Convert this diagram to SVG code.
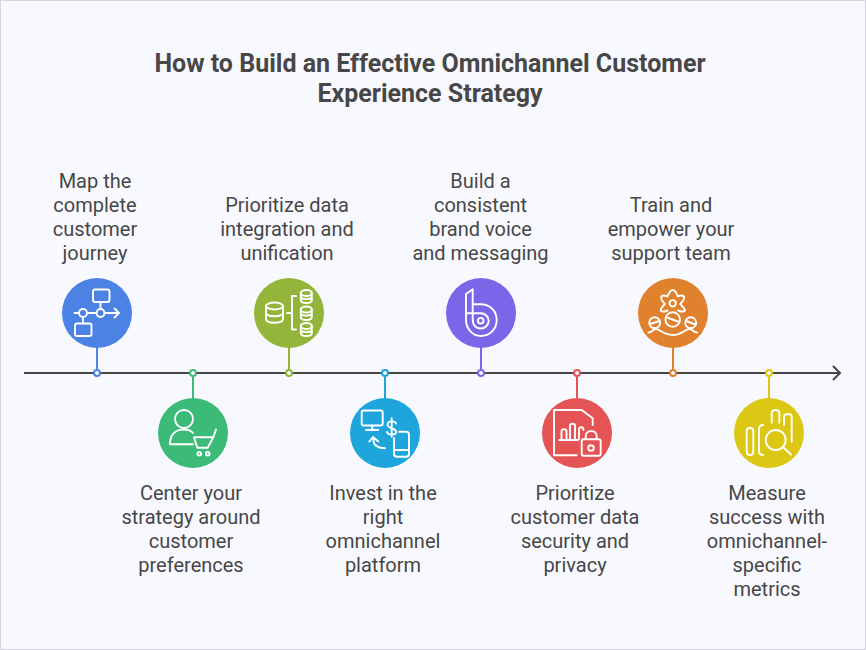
<svg xmlns="http://www.w3.org/2000/svg" width="866" height="650" viewBox="0 0 866 650">
<style>
text{font-family:Roboto,"Liberation Sans",sans-serif;fill:#474747;text-anchor:middle}
.t{font-size:20px;}
.h{font-size:25px;font-weight:700}
.i{fill:none;stroke:#fff;stroke-width:1.9;stroke-linecap:round;stroke-linejoin:round}
.s{stroke-width:2;fill:none}
.d{fill:#f8f9ff;stroke-width:2}
</style>
<rect x="0.5" y="0.5" width="865" height="649" fill="#f8f9ff" stroke="#d5d6de"/>
<text class="h"><tspan x="430" y="72">How to Build an Effective Omnichannel Customer</tspan><tspan x="430" y="102">Experience Strategy</tspan></text>
<g id="connectors">
<path d="M24 373H839M833 366L840 373L833 380" fill="none" stroke="#474747" stroke-width="2"/>
<path class="s" stroke="#4c82e4" d="M97 347V369"/>
<path class="s" stroke="#3cba78" d="M193 377V399"/>
<path class="s" stroke="#93b53a" d="M289 347V369"/>
<path class="s" stroke="#1ea5dc" d="M385 377V399"/>
<path class="s" stroke="#7a66e8" d="M481 347V369"/>
<path class="s" stroke="#e45454" d="M577 377V399"/>
<path class="s" stroke="#e0812e" d="M673 347V369"/>
<path class="s" stroke="#dcc814" d="M769 377V399"/>
<circle class="d" stroke="#4c82e4" cx="97" cy="373" r="3"/>
<circle class="d" stroke="#3cba78" cx="193" cy="373" r="3"/>
<circle class="d" stroke="#93b53a" cx="289" cy="373" r="3"/>
<circle class="d" stroke="#1ea5dc" cx="385" cy="373" r="3"/>
<circle class="d" stroke="#7a66e8" cx="481" cy="373" r="3"/>
<circle class="d" stroke="#e45454" cx="577" cy="373" r="3"/>
<circle class="d" stroke="#e0812e" cx="673" cy="373" r="3"/>
<circle class="d" stroke="#dcc814" cx="769" cy="373" r="3"/>
</g>
<g id="n1"><circle cx="97" cy="313" r="35" fill="#4c82e4"/>
<g class="i"><rect x="93" y="289.5" width="16.5" height="12.5" rx="2"/><path d="M100.5 302V309M74.5 313H79M87 313H96.500M104.500 313H119M114.500 308.500L119 313L114.500 317.500M83 317V323.500"/><circle cx="83" cy="313" r="4"/><circle cx="100.500" cy="313" r="4"/><rect x="75" y="323.500" width="16.500" height="12.500" rx="2"/></g>
<text class="t"><tspan x="95" y="188">Map the</tspan><tspan x="95" y="212">complete</tspan><tspan x="95" y="236">customer</tspan><tspan x="95" y="260">journey</tspan></text></g>
<g id="n2"><circle cx="193" cy="433" r="35" fill="#3cba78"/>
<g class="i"><circle cx="184" cy="419" r="9"/><path d="M193 444.300H170C170 434 176 429.500 184 429.500C188 429.500 191 430.500 193 433M194 437.300H213.300L207.700 447.700H197.300ZM213.300 437.300L216 429.500"/><circle cx="199.300" cy="453.700" r="1.800"/><circle cx="207.700" cy="453.700" r="1.800"/></g>
<text class="t"><tspan x="191" y="500">Center your</tspan><tspan x="191" y="524">strategy around</tspan><tspan x="191" y="548">customer</tspan><tspan x="191" y="572">preferences</tspan></text></g>
<g id="n3"><circle cx="289" cy="313" r="35" fill="#93b53a"/>
<g class="i"><ellipse cx="274.500" cy="306" rx="8.500" ry="3.500"/><path d="M266 306V319C266 324 283 324 283 319V306M266 312.500C266 317.500 283 317.500 283 312.500M287 313H292M296 296H292V329.500H296"/><ellipse cx="306.300" cy="293" rx="5.500" ry="3"/><path d="M300.800 293V300C300.800 304 311.800 304 311.800 300V293M300.800 296.500C300.800 300 311.800 300 311.800 296.500"/><ellipse cx="306.300" cy="309.500" rx="5.500" ry="3"/><path d="M300.800 309.500V317C300.800 321 311.800 321 311.800 317V309.500M300.800 313C300.800 316.500 311.800 316.500 311.800 313"/><ellipse cx="306.300" cy="326" rx="5.500" ry="3"/><path d="M300.800 326V333C300.800 337 311.800 337 311.800 333V326M300.800 329.500C300.800 333 311.800 333 311.800 329.500"/></g>
<text class="t"><tspan x="287" y="212">Prioritize data</tspan><tspan x="287" y="236">integration and</tspan><tspan x="287" y="260">unification</tspan></text></g>
<g id="n4"><circle cx="385" cy="433" r="35" fill="#1ea5dc"/>
<g class="i"><rect x="361.700" y="410.500" width="21" height="15" rx="2"/><path d="M372.200 425.500V430M366 430H378.300M369.300 441.500L373 437L378.300 441.500M373.500 437.500V441C373.500 445 378 448.300 385 448.300"/><path d="M399 431.700H406Q409 431.700 409 434.700V453.700Q409 456.700 406 456.700H397Q394 456.700 394 453.700V438M394 450H409"/><path d="M396 423.500C395 420.500 387.500 420.500 387.500 424.500C387.500 429 396 427.500 396 432C396 435.500 388 435.500 387 432M391.700 418.300V436.700"/></g>
<text class="t"><tspan x="383" y="500">Invest in the</tspan><tspan x="383" y="524">right</tspan><tspan x="383" y="548">omnichannel</tspan><tspan x="383" y="572">platform</tspan></text></g>
<g id="n5"><circle cx="481" cy="313" r="35" fill="#7a66e8"/>
<g class="i"><path d="M472.700 320V289.300L466 294V320C466 329 473 336 480.700 336C490 336 496.700 329 496.700 320C496.700 311 490 304.300 480.700 304.300H472.700M466 313.300H480.700C485 313.300 488.700 316.500 488.700 320.700C488.700 325 485 328.500 480.700 328.500C476 328.500 472.700 325 472.700 320"/><circle cx="480.700" cy="320.700" r="2.800"/></g>
<text class="t"><tspan x="480.500" y="188">Build a</tspan><tspan x="480.500" y="212">consistent</tspan><tspan x="480.500" y="236">brand voice</tspan><tspan x="480.500" y="260">and messaging</tspan></text></g>
<g id="n6"><circle cx="577" cy="433" r="35" fill="#e45454"/>
<g class="i"><path d="M576.700 455.300H554V410H581.700L592.700 418.300V425M559.300 440H578"/><path d="M561.500 440V431.500C561.500 428.500 566.500 428.500 566.500 431.500V440M570 440V426C570 423 575 423 575 426V440M579 439V429C579 426.500 583.500 426.500 583.500 430"/><rect x="581.700" y="439.300" width="19" height="16.400" rx="2"/><path d="M585.700 439V436C585.700 429.500 596.700 429.500 596.700 436V439"/><circle cx="591" cy="448" r="2.800"/></g>
<text class="t"><tspan x="575" y="500">Prioritize</tspan><tspan x="575" y="524">customer data</tspan><tspan x="575" y="548">security and</tspan><tspan x="575" y="572">privacy</tspan></text></g>
<g id="n7"><circle cx="673" cy="313" r="35" fill="#e0812e"/>
<g class="i"><path d="M667.500 310.500Q661 313 660.700 310Q661 308 665 304Q660 299 661.500 296.500Q663 294.500 667.500 296.500Q670 290 672.700 290Q675.500 290 677.800 296.500Q682 294.500 684 296.500Q685 299 680.300 304Q684 308 685 310Q685 313 678 310.500"/><circle cx="672.700" cy="303.300" r="3.200"/><circle cx="672.700" cy="319.500" r="7.300"/><path d="M667 317.500L678 321.500"/><circle cx="654.700" cy="322.700" r="5.500"/><path d="M650 324L659.500 321"/><circle cx="690.700" cy="322.700" r="5.500"/><path d="M686 321L695.500 324.500"/><path d="M648.500 332.500C652 332.500 653 329 656 329C660 329 663 335 672.700 335C682 335 685 329 689.500 329C692 329 693.500 332.500 697 332.500M655 328.300V329M690.500 328.300V329"/></g>
<text class="t"><tspan x="671" y="212">Train and</tspan><tspan x="671" y="236">empower your</tspan><tspan x="671" y="260">support team</tspan></text></g>
<g id="n8"><circle cx="769" cy="433" r="35" fill="#dcc814"/>
<g class="i"><path d="M746.700 431V452C746.700 456 753.300 456 753.300 452V431C753.300 427 746.700 427 746.700 431ZM763.300 425C760 425 759 426.500 759 429V451C759 453.500 760 455 763.300 455M771.700 422.700V413C771.700 409 779.300 409 779.300 413V422.700M784 425V417C784 413 791.700 413 791.700 417V441.700"/><circle cx="775.700" cy="440" r="10"/><path d="M783 447L791 454.500"/></g>
<text class="t"><tspan x="767" y="500">Measure</tspan><tspan x="767" y="524">success with</tspan><tspan x="767" y="548">omnichannel-</tspan><tspan x="767" y="572">specific</tspan><tspan x="767" y="596">metrics</tspan></text></g>
</svg>
